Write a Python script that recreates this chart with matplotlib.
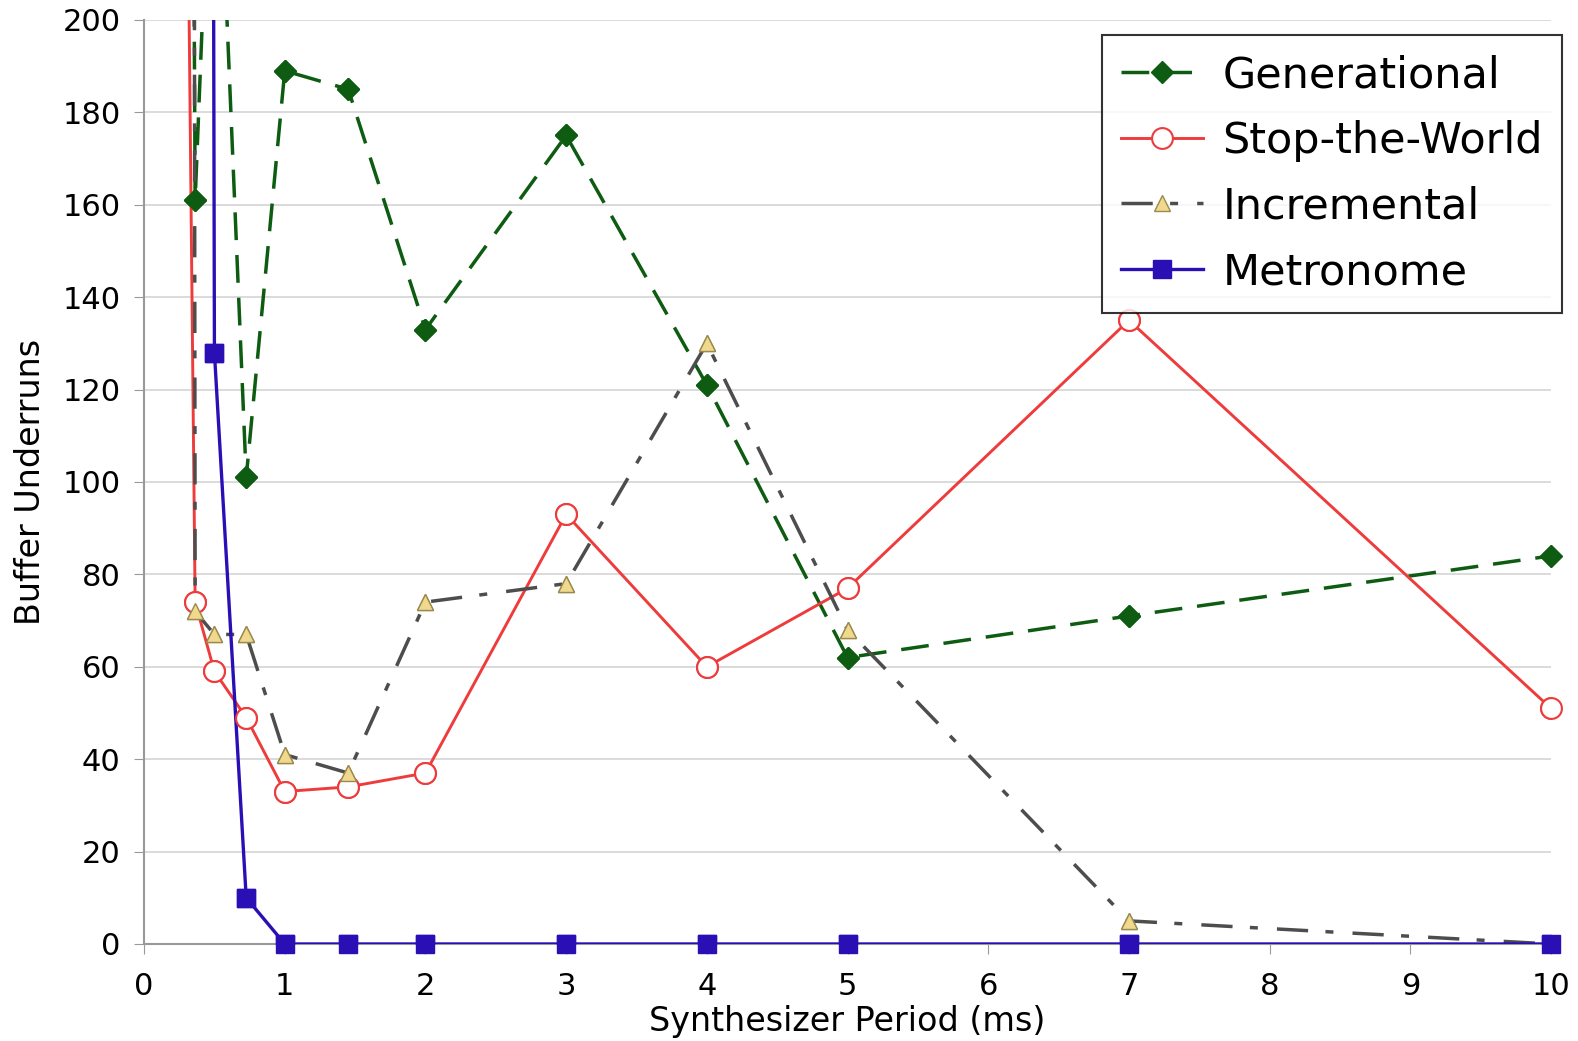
import matplotlib
matplotlib.use('Agg')
import matplotlib.pyplot as plt
import numpy as np

# synthesizer period in ms (buffer sizes at 44.1 kHz)
periods = [0.29, 0.363, 0.5, 0.726, 1, 1.451, 2, 3, 4, 5, 7, 10]

# buffer underruns per collector (first values run off the top of the chart)
generational = [600, 161, 265, 101, 189, 185, 133, 175, 121, 62, 71, 84]
stop_the_world = [290, 74, 59, 49, 33, 34, 37, 93, 60, 77, 135, 51]
incremental = [2000, 72, 67, 67, 41, 37, 74, 78, 130, 68, 5, 0]
metronome = [3000, 2000, 128, 10, 0, 0, 0, 0, 0, 0, 0, 0]

x_ticks = [0, 1, 2, 3, 4, 5, 6, 7, 8, 9, 10]
y_ticks = [0, 20, 40, 60, 80, 100, 120, 140, 160, 180, 200]

fig = plt.figure(figsize=(15.78, 10.41), dpi=100)
ax = fig.add_axes([0.0913, 0.0932, 0.8916, 0.8876])

styles = [
    ('Generational', generational, dict(color='#0d5c12', lw=2.5, linestyle=(0, (8, 4.3)), marker='D', ms=11,
                                       mfc='#0d5c12', mec='#0d5c12')),
    ('Stop-the-World', stop_the_world, dict(color='#ee3b3b', lw=2.1, linestyle='-', marker='o', ms=15,
                                            mfc='white', mec='#ee3b3b', mew=1.5)),
    ('Incremental', incremental, dict(color='#4d4d4d', lw=2.5, linestyle=(0, (9, 5, 2.3, 5.5)), marker='^', ms=11,
                                      mfc='#f0d98c', mec='#9a8a50', mew=1)),
    ('Metronome', metronome, dict(color='#2a10b4', lw=2.4, linestyle='-', marker='s', ms=13,
                                  mfc='#2a10b4', mec='#2a10b4')),
]

x = np.array(periods)
for name, vals, st in styles:
    y = np.array(vals, dtype=float)
    ax.plot(x, y, label=name, zorder=3, **st)
    # redraw in-range markers unclipped so edge points are whole
    inside = y <= 200
    mk = {k: v for k, v in st.items() if k not in ('linestyle', 'color', 'lw')}
    ax.plot(x[inside], y[inside], linestyle='none', clip_on=False, zorder=4, **mk)

ax.set_xlim(0, 10)
ax.set_ylim(0, 200)
ax.set_xticks(x_ticks)
ax.set_yticks(y_ticks)
ax.tick_params(labelsize=22, length=7, color='#999999')
ax.tick_params(axis='x', pad=13)
ax.tick_params(axis='y', pad=10)
ax.yaxis.grid(True, color='#d4d4d4', lw=1.2)
ax.set_axisbelow(True)
for s in ['top', 'right']:
    ax.spines[s].set_visible(False)
for s in ['left', 'bottom']:
    ax.spines[s].set_color('#999999')
    ax.spines[s].set_linewidth(1.5)

ax.set_xlabel('Synthesizer Period (ms)', fontsize=24, labelpad=3)
ax.set_ylabel('Buffer Underruns', fontsize=24, labelpad=11)

leg = ax.legend(loc='upper right', bbox_to_anchor=(1.008, 0.984), fontsize=31, frameon=True,
                fancybox=False, edgecolor='black', handlelength=1.9, labelspacing=0.55,
                borderpad=0.45, handletextpad=0.45, borderaxespad=0)
leg.get_frame().set_linewidth(1.5)
leg.set_zorder(10)

plt.savefig('out.png', dpi=100)
